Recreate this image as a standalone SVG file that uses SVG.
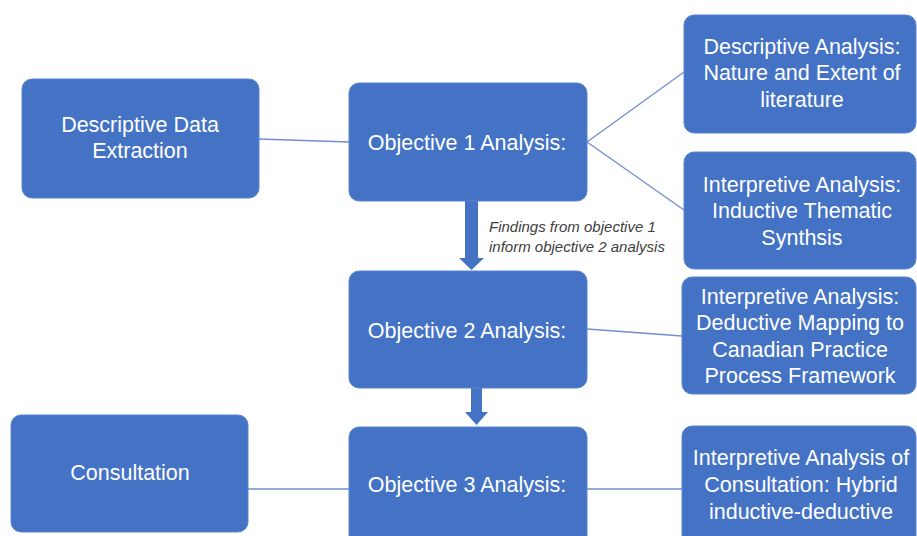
<svg xmlns="http://www.w3.org/2000/svg" width="917" height="536" viewBox="0 0 917 536">
<style>
.box{fill:#4472c4;stroke:#5b84cf;stroke-width:1}
.t{font-family:"Liberation Sans",Arial,sans-serif;font-size:21.5px;fill:#ffffff;text-anchor:middle}
.note{font-family:"Liberation Sans",Arial,sans-serif;font-size:15px;font-style:italic;fill:#404040}
.con{stroke:#6f8fd0;stroke-width:1.3;fill:none}
.arr{fill:#4472c4}
</style>
<rect width="917" height="536" fill="#ffffff"/>
<g id="connectors">
<line class="con" x1="259" y1="139" x2="349" y2="142"/>
<line class="con" x1="587" y1="142" x2="684" y2="72"/>
<line class="con" x1="587" y1="142" x2="684" y2="210"/>
<line class="con" x1="587" y1="329" x2="682" y2="336"/>
<line class="con" x1="248" y1="489" x2="349" y2="489"/>
<line class="con" x1="587" y1="489" x2="683" y2="489"/>
<polygon class="arr" points="465,201 478,201 478,258 484,258 471.5,270 459,258 465,258"/>
<polygon class="arr" points="471,388 482,388 482,412 488,412 476.5,425 465,412 471,412"/>
</g>
<g id="dde">
<rect class="box" x="22" y="79" width="237" height="119" rx="10"/>
<text class="t" x="140" y="132">Descriptive Data</text>
<text class="t" x="140" y="158">Extraction</text>
</g>
<g id="obj1">
<rect class="box" x="349" y="83" width="238" height="118" rx="10"/>
<text class="t" x="467" y="150">Objective 1 Analysis:</text>
</g>
<g id="obj2">
<rect class="box" x="349" y="271" width="238" height="117" rx="10"/>
<text class="t" x="467" y="338">Objective 2 Analysis:</text>
</g>
<g id="obj3">
<rect class="box" x="349" y="427" width="238" height="130" rx="10"/>
<text class="t" x="467" y="492">Objective 3 Analysis:</text>
</g>
<g id="consultation">
<rect class="box" x="11" y="415" width="237" height="117" rx="10"/>
<text class="t" x="130" y="480">Consultation</text>
</g>
<g id="r1">
<rect class="box" x="684" y="15" width="232" height="118" rx="10"/>
<text class="t" x="802" y="54">Descriptive Analysis:</text>
<text class="t" x="802" y="80">Nature and Extent of</text>
<text class="t" x="802" y="107">literature</text>
</g>
<g id="r2">
<rect class="box" x="684" y="152" width="232" height="117" rx="10"/>
<text class="t" x="802" y="192">Interpretive Analysis:</text>
<text class="t" x="802" y="218">Inductive Thematic</text>
<text class="t" x="802" y="245">Synthsis</text>
</g>
<g id="r3">
<rect class="box" x="682" y="277" width="234" height="117" rx="10"/>
<text class="t" x="800" y="304">Interpretive Analysis:</text>
<text class="t" x="800" y="330">Deductive Mapping to</text>
<text class="t" x="800" y="357">Canadian Practice</text>
<text class="t" x="800" y="383">Process Framework</text>
</g>
<g id="r4">
<rect class="box" x="682" y="426" width="234" height="130" rx="10"/>
<text class="t" x="801" y="465">Interpretive Analysis of</text>
<text class="t" x="801" y="492">Consultation: Hybrid</text>
<text class="t" x="801" y="519">inductive-deductive</text>
</g>
<g id="note">
<text class="note" x="489" y="232">Findings from objective 1</text>
<text class="note" x="489" y="252">inform objective 2 analysis</text>
</g>
</svg>
